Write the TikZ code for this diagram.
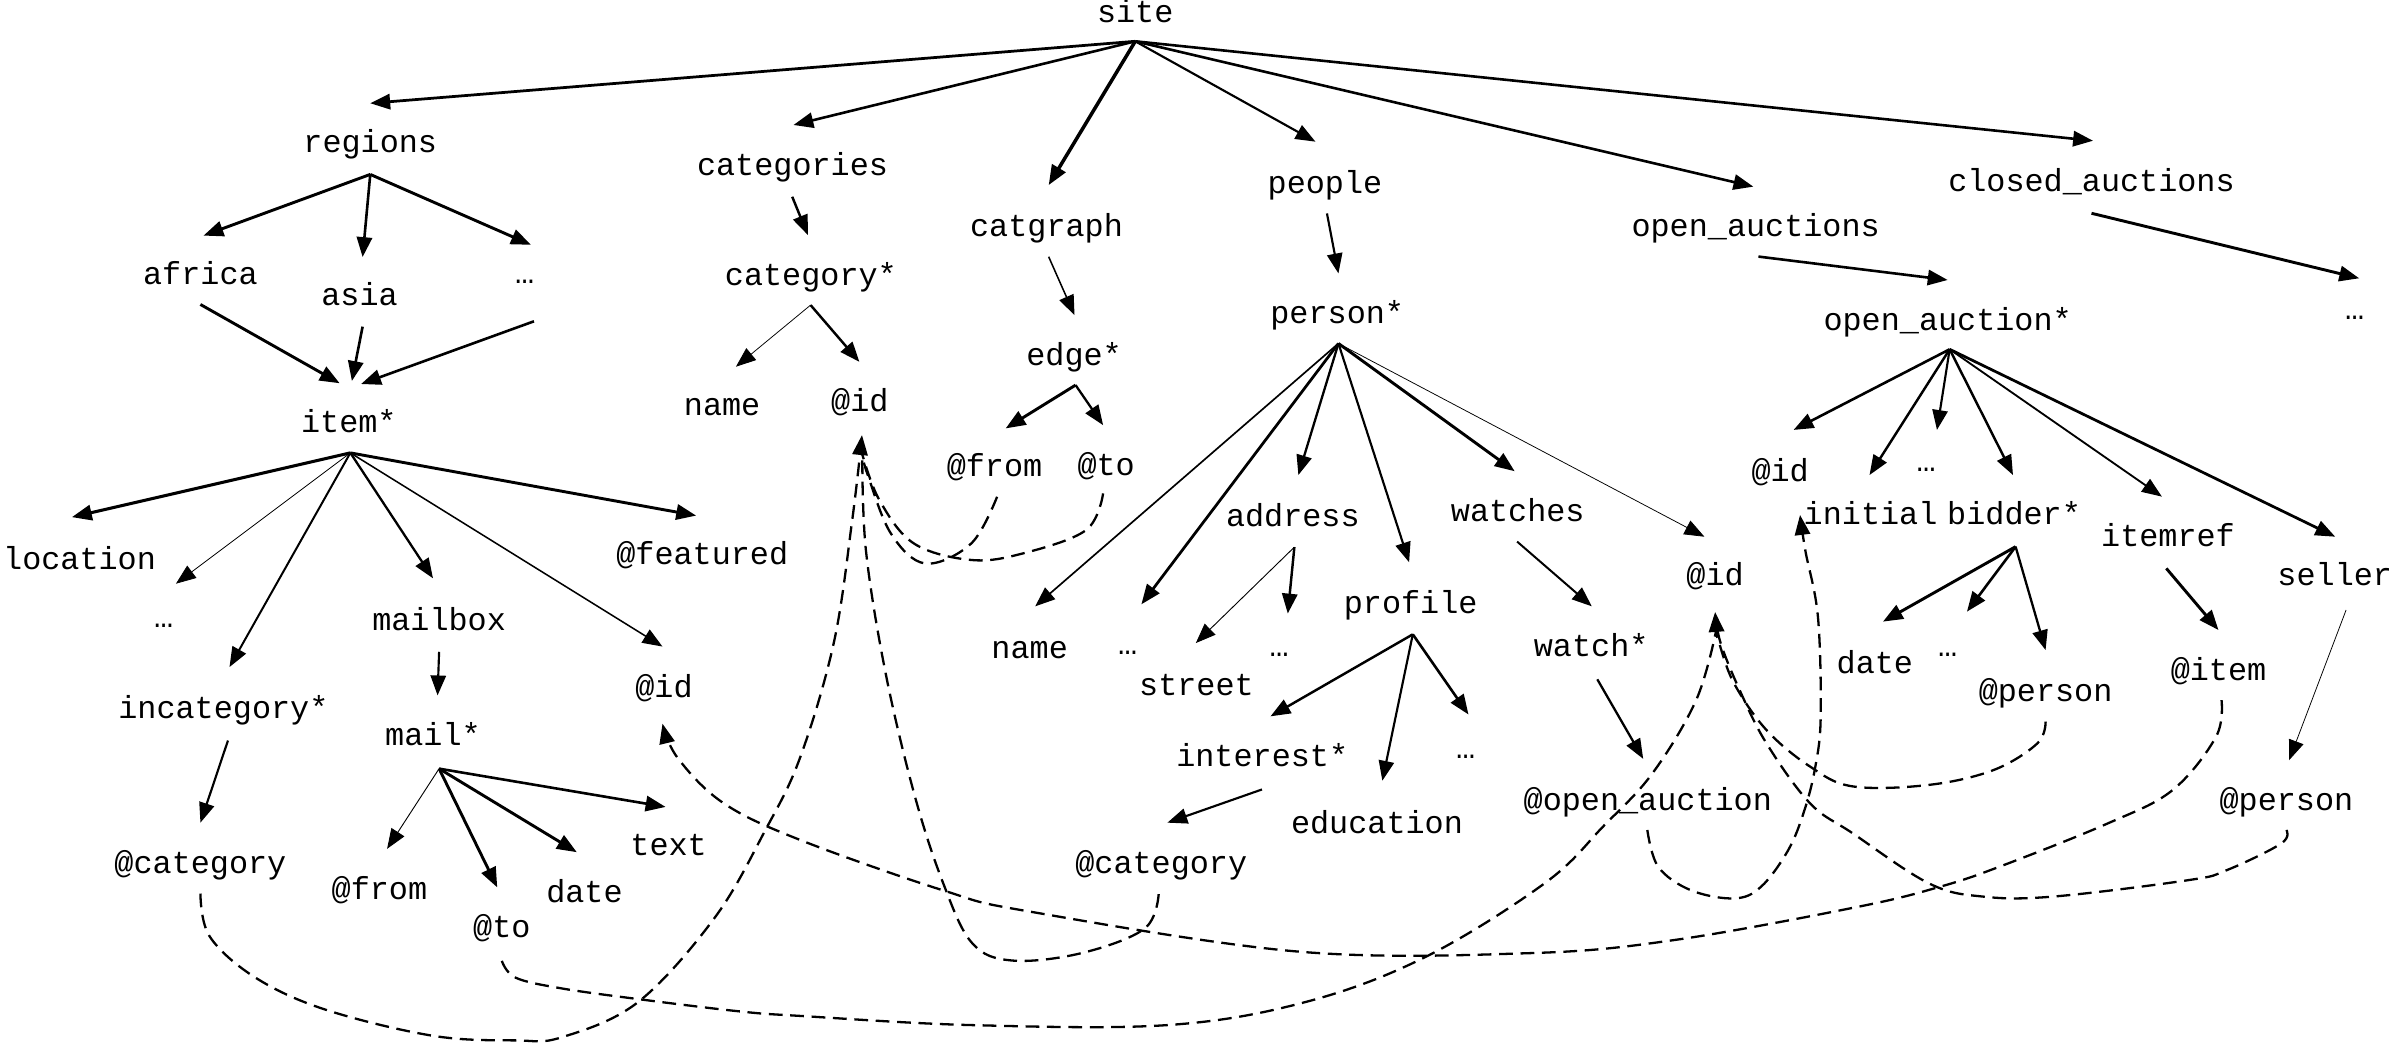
\documentclass[tikz,border=0pt]{standalone}
\usepackage{fontspec}
\newfontfamily\mono{Liberation Mono}
\usetikzlibrary{arrows.meta}
\begin{document}
\begin{tikzpicture}[x=1pt,y=-1pt,
  lbl/.style={font=\mono\fontsize{20.8}{24}\selectfont, inner sep=0pt, anchor=base},
  arr/.style={-{Triangle[length=13pt,width=10pt]}, line width=#1},
  arr/.default=1.5,
  refl/.style={dash pattern=on 9pt off 5pt, line width=1.5pt},
  refa/.style={refl, -{Triangle[length=13pt,width=10pt]}}]
\useasboundingbox (0,0) rectangle (1568,682);
\fill[white] (0,0) rectangle (1568,682);
% ---------- nodes ----------
\node[lbl] (site) at (742,14.5) {site};
\node[lbl] (regions) at (242,100) {regions};
\node[lbl] (categories) at (518,114.4) {categories};
\node[lbl] (catgraph) at (684,154.7) {catgraph};
\node[lbl] (people) at (866,126.4) {people};
\node[lbl] (open_auctions) at (1147.5,154.7) {open\_auctions};
\node[lbl] (closed_auctions) at (1367,125.2) {closed\_auctions};
\node[lbl] (africa) at (131,186) {africa};
\node[lbl] (asia) at (235,200) {asia};
\node[lbl] (rdots) at (343,185) {…};
\node[lbl] (item) at (228,283) {item*};
\node[lbl] (category) at (530,186.3) {category*};
\node[lbl] (cname) at (472,271.3) {name};
\node[lbl] (cid) at (562,269) {@id};
\node[lbl] (edge) at (702,238.6) {edge*};
\node[lbl] (efrom) at (650,311.6) {@from};
\node[lbl] (eto) at (723,310.5) {@to};
\node[lbl] (person) at (874,211.4) {person*};
\node[lbl] (oa) at (1273,215.7) {open\_auction*};
\node[lbl] (cdots) at (1539,209) {…};
\node[lbl] (location) at (52,372.4) {location};
\node[lbl] (idots) at (107,410) {…};
\node[lbl] (featured) at (459,369) {@featured};
\node[lbl] (mailbox) at (287,412.3) {mailbox};
\node[lbl] (incategory) at (146,469.3) {incategory*};
\node[lbl] (mail) at (283,487.5) {mail*};
\node[lbl] (iid) at (434,455.6) {@id};
\node[lbl] (icat) at (131,570.8) {@category};
\node[lbl] (mfrom) at (248,588) {@from};
\node[lbl] (mto) at (328,613) {@to};
\node[lbl] (mdate) at (382,590) {date};
\node[lbl] (mtext) at (437,559.4) {text};
\node[lbl] (pname) at (673,430.5) {name};
\node[lbl] (pdots) at (737,428) {…};
\node[lbl] (address) at (845,343.9) {address};
\node[lbl] (street) at (782,454.5) {street};
\node[lbl] (adots) at (836,429.4) {…};
\node[lbl] (profile) at (922,400.9) {profile};
\node[lbl] (watches) at (992,340.6) {watches};
\node[lbl] (watch) at (1040,429.4) {watch*};
\node[lbl] (pid) at (1121,382.4) {@id};
\node[lbl] (interest) at (825,501.2) {interest*};
\node[lbl] (education) at (900,544.5) {education};
\node[lbl] (prdots) at (958,495.5) {…};
\node[lbl] (incat2) at (759,570.8) {@category};
\node[lbl] (woa) at (1077,530) {@open\_auction};
\node[lbl] (oaid) at (1163.5,314.8) {@id};
\node[lbl] (oadots) at (1259,308) {…};
\node[lbl] (initial) at (1222.6,343) {initial};
\node[lbl] (bidder) at (1316.4,343) {bidder*};
\node[lbl] (itemref) at (1417,357.3) {itemref};
\node[lbl] (seller) at (1526,382.4) {seller};
\node[lbl] (bdate) at (1225.4,440.1) {date};
\node[lbl] (bdots) at (1273,428.8) {…};
\node[lbl] (bperson) at (1337,458.6) {@person};
\node[lbl] (oitem) at (1450,444.5) {@item};
\node[lbl] (sperson) at (1494.4,529.5) {@person};
% ---------- connector ends ----------
\coordinate (site-o) at (742,27);
\coordinate (regions-i) at (242,67.5);
\coordinate (categories-i) at (518.6,81.7);
\coordinate (catgraph-i) at (685.4,121);
\coordinate (people-i) at (859.8,92.6);
\coordinate (open_auctions-i) at (1146,122);
\coordinate (closed_auctions-i) at (1368,92);
\coordinate (regions-o) at (242,114);
\coordinate (africa-i) at (133,154);
\coordinate (asia-i) at (237,168);
\coordinate (rdots-i) at (347,160);
\coordinate (africa-o) at (131,199);
\coordinate (asia-o) at (237,213.5);
\coordinate (rdots-o) at (349,210);
\coordinate (item-i1) at (222,250.5);
\coordinate (item-i2) at (230,249);
\coordinate (item-i3) at (236,251);
\coordinate (item-o) at (229,296);
\coordinate (location-i) at (47,338);
\coordinate (idots-i) at (115,381.5);
\coordinate (incategory-i) at (150,436);
\coordinate (mailbox-i) at (283,378);
\coordinate (iid-i) at (433,422.6);
\coordinate (featured-i) at (455,337);
\coordinate (mailbox-o) at (287,426);
\coordinate (mail-i) at (286,454.5);
\coordinate (incategory-o) at (149,484);
\coordinate (icat-i) at (131,537.7);
\coordinate (mail-o) at (287,502.4);
\coordinate (mfrom-i) at (253,554.8);
\coordinate (mto-i) at (325,580);
\coordinate (mdate-i) at (377,557);
\coordinate (mtext-i) at (435,527.4);
\coordinate (categories-o) at (517.8,128.6);
\coordinate (category-i) at (528,153.6);
\coordinate (category-o) at (529.8,199.4);
\coordinate (cname-i) at (481,239.7);
\coordinate (cid-i) at (561.7,236.5);
\coordinate (catgraph-o) at (685.4,167.8);
\coordinate (edge-i) at (702.3,206);
\coordinate (edge-o) at (703,251.7);
\coordinate (efrom-i) at (657.3,280);
\coordinate (eto-i) at (721,277.9);
\coordinate (people-o) at (867.3,139.5);
\coordinate (person-i) at (874.8,178.7);
\coordinate (person-o) at (874.8,224.5);
\coordinate (address-i) at (848.6,310.5);
\coordinate (watches-i) at (990,308);
\coordinate (profile-i) at (921,367.5);
\coordinate (pname-i) at (676.6,396.3);
\coordinate (pdots-i) at (746,395);
\coordinate (pid-i) at (1114,350.8);
\coordinate (address-o) at (846,357.6);
\coordinate (street-i) at (781.6,420.3);
\coordinate (adots-i) at (841.7,401);
\coordinate (profile-o) at (923.4,414.6);
\coordinate (interest-i) at (830.4,468.2);
\coordinate (education-i) at (903.5,510.3);
\coordinate (prdots-i) at (959.8,467);
\coordinate (interest-o) at (824.8,516);
\coordinate (incat2-i) at (763,537.7);
\coordinate (watches-o) at (991.6,354);
\coordinate (watch-i) at (1040.4,396.3);
\coordinate (watch-o) at (1044,444);
\coordinate (woa-i) at (1074,496);
\coordinate (open_auctions-o) at (1149.3,167.7);
\coordinate (oa-i) at (1273,183);
\coordinate (closed_auctions-o) at (1367,139.4);
\coordinate (cdots-i) at (1542,181.9);
\coordinate (oa-o) at (1274.3,228.3);
\coordinate (oaid-i) at (1172.3,281);
\coordinate (initial-i) at (1221.9,310.5);
\coordinate (oadots-i) at (1266,281);
\coordinate (bidder-i) at (1315.7,310.5);
\coordinate (itemref-i) at (1413,324.6);
\coordinate (seller-i) at (1526.3,350.8);
\coordinate (bidder-o) at (1317.4,357.3);
\coordinate (bdate-i) at (1230.7,406.3);
\coordinate (bdots-i) at (1285.6,399.8);
\coordinate (bperson-i) at (1337,424.9);
\coordinate (itemref-o) at (1415.9,371.5);
\coordinate (oitem-i) at (1450,411.8);
\coordinate (seller-o) at (1533.4,398.7);
\coordinate (sperson-i) at (1496.2,496.8);
% reference ends
\coordinate (icat-d) at (131,584);
\coordinate (incat2-d) at (757.3,584.4);
\coordinate (efrom-d) at (651.7,324.7);
\coordinate (eto-d) at (721,322.5);
\coordinate (cid-d) at (563.4,284.4);
\coordinate (cid-b) at (563.6,297);
\coordinate (mto-d) at (328,628);
\coordinate (bperson-d) at (1337,471.7);
\coordinate (sperson-d) at (1494.4,542.5);
\coordinate (pid-d) at (1121,400);
\coordinate (pid-b) at (1121.5,413);
\coordinate (woa-d) at (1076.7,542.5);
\coordinate (oaid-d) at (1176.5,336.6);
\coordinate (oitem-d) at (1452,457.6);
\coordinate (iid-d) at (433,473);
% ---------- tree edges ----------
\draw[arr=1.8] (site-o) -- (regions-i);
\draw[arr=1.7] (site-o) -- (categories-i);
\draw[arr=2.3] (site-o) -- (catgraph-i);
\draw[arr=1.4] (site-o) -- (people-i);
\draw[arr=1.7] (site-o) -- (open_auctions-i);
\draw[arr=1.7] (site-o) -- (closed_auctions-i);
\draw[arr=1.9] (regions-o) -- (africa-i);
\draw[arr=1.7] (regions-o) -- (asia-i);
\draw[arr=1.9] (regions-o) -- (rdots-i);
\draw[arr=1.9] (africa-o) -- (item-i1);
\draw[arr=1.7] (asia-o) -- (item-i2);
\draw[arr=1.7] (rdots-o) -- (item-i3);
\draw[arr=2.0] (item-o) -- (location-i);
\draw[arr=0.5] (item-o) -- (idots-i);
\draw[arr=1.3] (item-o) -- (incategory-i);
\draw[arr=1.5] (item-o) -- (mailbox-i);
\draw[arr=1.0] (item-o) -- (iid-i);
\draw[arr=1.9] (item-o) -- (featured-i);
\draw[arr=1.4] (mailbox-o) -- (mail-i);
\draw[arr=1.4] (incategory-o) -- (icat-i);
\draw[arr=0.6] (mail-o) -- (mfrom-i);
\draw[arr=1.9] (mail-o) -- (mto-i);
\draw[arr=1.9] (mail-o) -- (mdate-i);
\draw[arr=1.7] (mail-o) -- (mtext-i);
\draw[arr=1.6] (categories-o) -- (category-i);
\draw[arr=0.5] (category-o) -- (cname-i);
\draw[arr=1.6] (category-o) -- (cid-i);
\draw[arr=1.0] (catgraph-o) -- (edge-i);
\draw[arr=1.9] (edge-o) -- (efrom-i);
\draw[arr=1.5] (edge-o) -- (eto-i);
\draw[arr=1.4] (people-o) -- (person-i);
\draw[arr=1.1] (person-o) -- (pname-i);
\draw[arr=1.8] (person-o) -- (pdots-i);
\draw[arr=1.5] (person-o) -- (address-i);
\draw[arr=1.4] (person-o) -- (profile-i);
\draw[arr=1.9] (person-o) -- (watches-i);
\draw[arr=0.5] (person-o) -- (pid-i);
\draw[arr=0.6] (address-o) -- (street-i);
\draw[arr=1.6] (address-o) -- (adots-i);
\draw[arr=1.6] (profile-o) -- (interest-i);
\draw[arr=1.4] (profile-o) -- (education-i);
\draw[arr=1.7] (profile-o) -- (prdots-i);
\draw[arr=1.4] (interest-o) -- (incat2-i);
\draw[arr=1.3] (watches-o) -- (watch-i);
\draw[arr=1.5] (watch-o) -- (woa-i);
\draw[arr=1.7] (open_auctions-o) -- (oa-i);
\draw[arr=1.9] (closed_auctions-o) -- (cdots-i);
\draw[arr=1.7] (oa-o) -- (oaid-i);
\draw[arr=1.6] (oa-o) -- (initial-i);
\draw[arr=1.4] (oa-o) -- (oadots-i);
\draw[arr=1.6] (oa-o) -- (bidder-i);
\draw[arr=1.2] (oa-o) -- (itemref-i);
\draw[arr=1.8] (oa-o) -- (seller-i);
\draw[arr=1.9] (bidder-o) -- (bdate-i);
\draw[arr=1.7] (bidder-o) -- (bdots-i);
\draw[arr=1.5] (bidder-o) -- (bperson-i);
\draw[arr=1.9] (itemref-o) -- (oitem-i);
\draw[arr=0.5] (seller-o) -- (sperson-i);
% ---------- references (dashed) ----------
\draw[refa] plot[smooth,tension=0.6] coordinates {(icat-d) (137,612) (167,639) (213,660) (283,677) (337,680) (367,678) (417,655) (467,600) (500,543) (523,495) (545,420) (557,340) (cid-d)};
\draw[refl] plot[smooth,tension=0.6] coordinates {(incat2-d) (748,607) (706.7,623) (661.6,627.8) (635.4,616.4) (616.6,577.6) (598,520.6) (579,440.8) (566,360) (cid-b)};
\draw[refl] plot[smooth,tension=0.6] coordinates {(efrom-d) (634.8,355.2) (604.8,368.3) (582.3,348.7) (567,310) (cid-b)};
\draw[refl] plot[smooth,tension=0.6] coordinates {(eto-d) (709.8,346.5) (668.6,361.7) (634.8,366) (597.3,355.2) (574.8,326.9) (cid-b)};
\draw[refl] plot[smooth,tension=0.6] coordinates {(mto-d) (337,639) (367,646) (417,653) (483,661) (523,664) (635,670) (763,670) (853,655) (931.6,625.5) (1010,577) (1048,540) (1080,505.5) (1108.6,457.6) (pid-b)};
\draw[refl] plot[smooth,tension=0.6] coordinates {(bperson-d) (1331.6,485.9) (1303,503.3) (1260.8,513) (1211,514) (1183,501) (1154.6,477.2) (1133.4,446.7) (1123.5,420) (pid-b)};
\draw[refa] plot[smooth,tension=0.6] coordinates {(sperson-d) (1491,551.3) (1455.5,568.7) (1430.7,575.2) (1342,586) (1296,586) (1260.8,577.4) (1211,544.7) (1183,525) (1154.6,485.9) (1137,451) (1124.5,420) (pid-d)};
\draw[refa] plot[smooth,tension=0.6] coordinates {(woa-d) (1083.8,566.5) (1105,581.8) (1133.4,587.2) (1151,579.6) (1168.8,555.6) (1179.4,529.5) (1186.5,501.1) (1190,468.5) (1188.2,403.1) (1180,360) (oaid-d)};
\draw[refa] plot[smooth,tension=0.6] coordinates {(oitem-d) (1448.4,481.5) (1420,516.4) (1377.6,538.2) (1306.8,566.5) (1267.9,579.6) (1214.8,592.6) (1094.4,614.4) (999,623) (849,622) (673,595.8) (616.6,582) (523,549) (473,525) (443,495.5) (iid-d)};
\end{tikzpicture}
\end{document}
